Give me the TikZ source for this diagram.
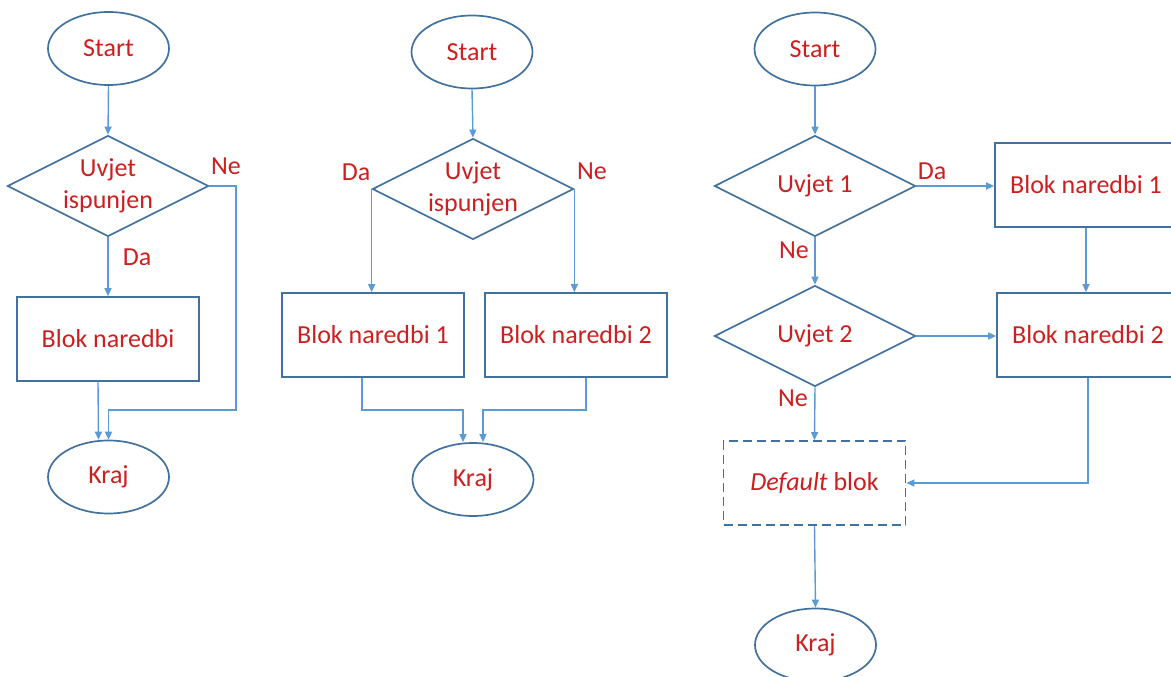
\documentclass[tikz,border=0pt]{standalone}
\usepackage{fontspec}
\setmainfont{Carlito}
\usetikzlibrary{shapes.geometric,arrows.meta}
\definecolor{edge}{HTML}{41719C}
\definecolor{link}{HTML}{5B9BD5}
\definecolor{txt}{HTML}{CC1F1F}

\begin{document}
\begin{tikzpicture}[x=1pt,y=-1pt,
  every node/.style={font=\fontsize{26}{32}\selectfont, text=txt},
  term/.style={ellipse, draw=edge, line width=1.7pt, minimum width=121pt, minimum height=73pt, inner sep=0pt},
  decision/.style={diamond, draw=edge, line width=1.7pt, minimum width=201pt, minimum height=101pt, inner sep=0pt},
  block/.style={rectangle, draw=edge, line width=1.7pt, minimum width=182pt, minimum height=84pt, inner sep=0pt},
  defblock/.style={block, dash pattern=on 9pt off 5pt},
  conn/.style={draw=link, line width=1.4pt, -{Triangle[length=8pt,width=7pt]}},
  ctext/.style={align=center, inner sep=0pt},
  lab/.style={inner sep=0pt}
]
\useasboundingbox (0,0) rectangle (1171,677);
\clip (0,0) rectangle (1171,677);

% ---------- if ----------
\node[term] (s1) at (108.5,48.5) {Start};
\node[decision] (d1) at (108,186) {};
\node[ctext] (d1t) at (d1) {Uvjet\\ispunjen};
\node[block] (b1) at (108,339) {Blok naredbi};
\node[term] (k1) at (108.5,477) {Kraj};
\node[lab] (ne1) at (226,166) {Ne};
\node[lab] (da1) at (137,257) {Da};
\coordinate (j1) at (236,410);

\draw[conn] (s1.south) -- (d1.north);
\draw[conn] (d1.south) -- (b1.north);
\draw[conn] ([xshift=-10pt]b1.south) -- ([xshift=-10pt]k1.north);
\draw[conn] (d1.east) -| (j1) -| (k1.north);

% ---------- if / else ----------
\node[term] (s2) at (472,52) {Start};
\node[decision] (d2) at (473,189) {};
\node[ctext] (d2t) at (d2) {Uvjet\\ispunjen};
\node[block] (b21) at (373,335) {Blok naredbi 1};
\node[block] (b22) at (576,335) {Blok naredbi 2};
\node[term] (k2) at (473,479.5) {Kraj};
\node[lab] (da2) at (356,172) {Da};
\node[lab] (ne2) at (592,171) {Ne};
\coordinate (j2) at (473,410);
\coordinate (k2l) at ([xshift=-10pt]k2.north);
\coordinate (k2r) at ([xshift=10pt]k2.north);

\draw[conn] (s2.south) -- (d2.north);
\draw[conn] (d2.west) -- (d2.west |- b21.north);
\draw[conn] (d2.east) -- (d2.east |- b22.north);
\draw[conn] ([xshift=-11pt]b21.south) |- (k2l |- j2) -- (k2l);
\draw[conn] ([xshift=10pt]b22.south) |- (k2r |- j2) -- (k2r);

% ---------- switch ----------
\node[term] (s3) at (815,49) {Start};
\node[decision] (d31) at (815,186) {};
\node[ctext] (d31t) at (d31) {Uvjet 1};
\node[decision] (d32) at (815,336) {};
\node[ctext] (d32t) at (d32) {Uvjet 2};
\node[block] (b31) at (1086,185) {Blok naredbi 1};
\node[block] (b32) at (1088,335) {Blok naredbi 2};
\node[defblock] (db) at (814.5,483) {\itshape Default\upshape{} blok};
\node[term] (k3) at (815.5,645) {Kraj};
\node[lab] (da3) at (932,171) {Da};
\node[lab] (ne31) at (794,250) {Ne};
\node[lab] (ne32) at (793,398) {Ne};

\draw[conn] (s3.south) -- (d31.north);
\draw[conn] (d31.east) -- (d31.east -| b31.west);
\draw[conn] (d31.south) -- (d32.north);
\draw[conn] (d32.east) -- (d32.east -| b32.west);
\draw[conn] (b31.south) -- (b31.south |- b32.north);
\draw[conn] (d32.south) -- (db.north);
\draw[conn] (b32.south) |- (db.east);
\draw[conn] (db.south) -- (k3.north);
\end{tikzpicture}
\end{document}
